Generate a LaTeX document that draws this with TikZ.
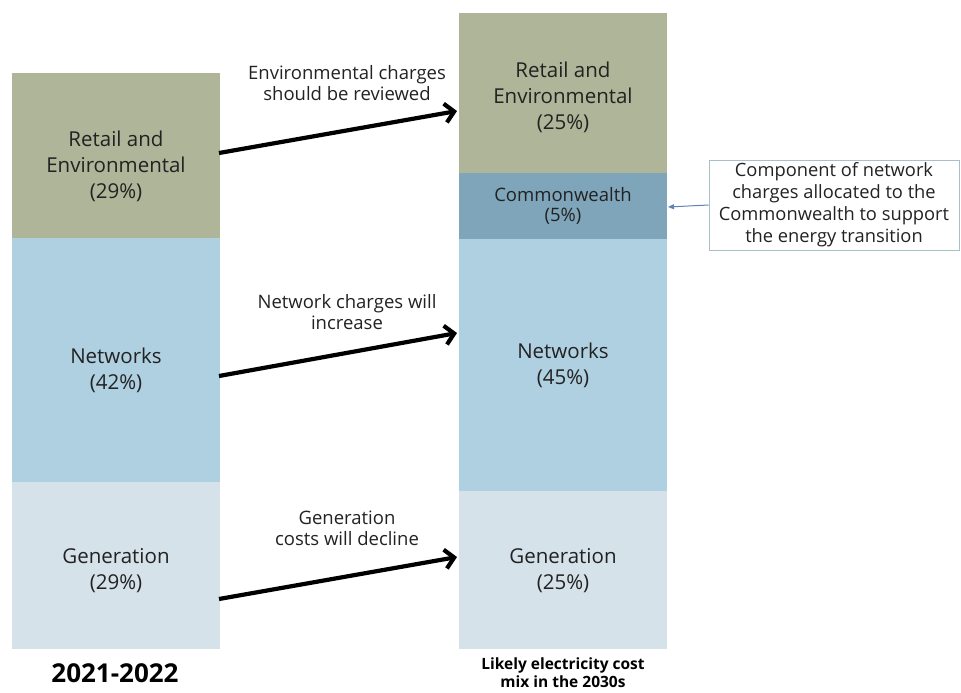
\documentclass[tikz,border=0pt]{standalone}
\usepackage{fontspec}
\setmainfont{Open Sans}
\usetikzlibrary{arrows.meta}
\definecolor{retail}{HTML}{AEB599}
\definecolor{netw}{HTML}{AFD0E1}
\definecolor{gen}{HTML}{D5E2EA}
\definecolor{cw}{HTML}{7FA5BA}
\definecolor{txt}{HTML}{222222}
\definecolor{callline}{HTML}{A9BECB}
\definecolor{callarrow}{HTML}{5F83B5}
\begin{document}
\begin{tikzpicture}[x=1pt,y=-1pt,
  bar/.style={draw=none,inner sep=0pt,outer sep=0pt,anchor=north west},
  blabel/.style={align=center,font=\fontsize{20.5}{26}\selectfont,text=txt,inner sep=0pt},
  slabel/.style={align=center,font=\fontsize{18.5}{20}\selectfont,text=txt,inner sep=0pt},
  alabel/.style={align=center,font=\fontsize{18.5}{21}\selectfont,text=txt,inner sep=0pt},
  bigarrow/.style={line width=4.2pt,-{Straight Barb[length=9pt,width=19pt]}},
  callbox/.style={draw=callline,line width=0.8pt,align=center,inner sep=0pt,
    font=\fontsize{18.3}{22}\selectfont,text=txt},
  callarr/.style={draw=callarrow,line width=1pt,-{Triangle[length=6pt,width=5pt]}}
]
\useasboundingbox (0,0) rectangle (961,693);
% left column
\node[bar,fill=retail,minimum width=208pt,minimum height=165pt] (lret) at (12,73) {};
\node[bar,fill=netw,minimum width=208pt,minimum height=244pt] (lnet) at (12,238) {};
\node[bar,fill=gen,minimum width=208pt,minimum height=167pt] (lgen) at (12,482) {};
\node[blabel] (lretT) at (116,166) {Retail and\\Environmental\\(29\%)};
\node[blabel] (lnetT) at (116,370) {Networks\\(42\%)};
\node[blabel] (lgenT) at (116,571) {Generation\\(29\%)};
% right column
\node[bar,fill=retail,minimum width=208pt,minimum height=160pt] (rret) at (459,13) {};
\node[bar,fill=cw,minimum width=208pt,minimum height=66pt] (rcw) at (459,173) {};
\node[bar,fill=netw,minimum width=208pt,minimum height=252pt] (rnet) at (459,239) {};
\node[bar,fill=gen,minimum width=208pt,minimum height=158pt] (rgen) at (459,491) {};
\node[blabel] (rretT) at (563,97) {Retail and\\Environmental\\(25\%)};
\node[slabel] (rcwT) at (563,206) {Commonwealth\\(5\%)};
\node[blabel] (rnetT) at (563,365) {Networks\\(45\%)};
\node[blabel] (rgenT) at (563,571) {Generation\\(25\%)};
% arrows
\coordinate (a1s) at (219,153);
\coordinate (a1e) at (457,111);
\coordinate (a2s) at (219,376);
\coordinate (a2e) at (457,333);
\coordinate (a3s) at (219,599);
\coordinate (a3e) at (457,557);
\draw[bigarrow] (a1s) -- (a1e);
\draw[bigarrow] (a2s) -- (a2e);
\draw[bigarrow] (a3s) -- (a3e);
\node[alabel] (t1) at (347,83) {Environmental charges\\should be reviewed};
\node[alabel] (t2) at (347,312) {Network charges will\\increase};
\node[alabel] (t3) at (347,528) {Generation\\costs will decline};
% callout
\node[callbox,minimum width=250pt,minimum height=90pt] (cb) at (834,205)
  {Component of network\\charges allocated to the\\Commonwealth to support\\the energy transition};
\coordinate (cwe) at (668,207);
\draw[callarr] (cb.west) -- (cwe);
% captions
\node[font=\bfseries\fontsize{26}{28}\selectfont,text=black,inner sep=0pt] (cap1) at (115,673) {2021-2022};
\node[align=center,font=\bfseries\fontsize{15.5}{18}\selectfont,text=black,inner sep=0pt] (cap2) at (563,673) {Likely electricity cost\\mix in the 2030s};
\end{tikzpicture}
\end{document}
